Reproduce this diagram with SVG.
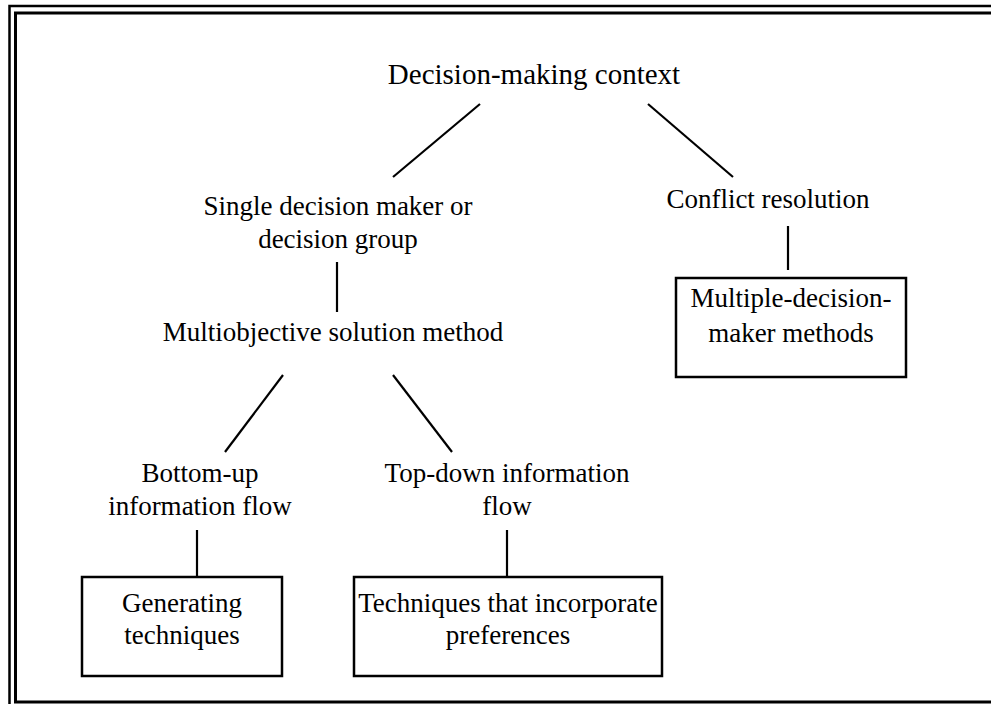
<svg xmlns="http://www.w3.org/2000/svg" width="991" height="704" viewBox="0 0 991 704">
<style>
text{font-family:"Liberation Serif","Times New Roman",serif;font-size:27px;fill:#000;text-anchor:middle}
.ln{stroke:#000;stroke-width:2.2;fill:none}
.box{stroke:#000;stroke-width:2.5;fill:#fff}
.frame{stroke:#000;fill:none}
</style>
<rect width="991" height="704" fill="#fff"/>
<g id="frame">
<path class="frame" stroke-width="2.5" d="M991,6 H9.5 V704"/>
<path class="frame" stroke-width="3" d="M991,13 H15.5 V702 H991"/>
</g>
<g id="connectors">
<line class="ln" x1="480" y1="104" x2="393" y2="177"/>
<line class="ln" x1="648" y1="104" x2="733" y2="177"/>
<line class="ln" x1="337" y1="262" x2="337" y2="312"/>
<line class="ln" x1="788" y1="226" x2="788" y2="270"/>
<line class="ln" x1="283" y1="375" x2="225" y2="452"/>
<line class="ln" x1="393" y1="375" x2="452" y2="452"/>
<line class="ln" x1="197" y1="530" x2="197" y2="577"/>
<line class="ln" x1="507" y1="530" x2="507" y2="577"/>
</g>
<g id="n-context"><text x="534" y="84" style="font-size:29px">Decision-making context</text></g>
<g id="n-single"><text x="338" y="215">Single decision maker or</text><text x="338" y="248">decision group</text></g>
<g id="n-conflict"><text x="768" y="208">Conflict resolution</text></g>
<g id="n-multiple"><rect class="box" x="676" y="278" width="230" height="99"/><text x="791" y="307">Multiple-decision-</text><text x="791" y="342">maker methods</text></g>
<g id="n-multiobj"><text x="333" y="341">Multiobjective solution method</text></g>
<g id="n-bottomup"><text x="200" y="482">Bottom-up</text><text x="200" y="515">information flow</text></g>
<g id="n-topdown"><text x="507" y="482">Top-down information</text><text x="507" y="515">flow</text></g>
<g id="n-generating"><rect class="box" x="82" y="577" width="200" height="99"/><text x="182" y="612">Generating</text><text x="182" y="644">techniques</text></g>
<g id="n-techniques"><rect class="box" x="354" y="577" width="308" height="99"/><text x="508" y="612">Techniques that incorporate</text><text x="508" y="644">preferences</text></g>
</svg>
